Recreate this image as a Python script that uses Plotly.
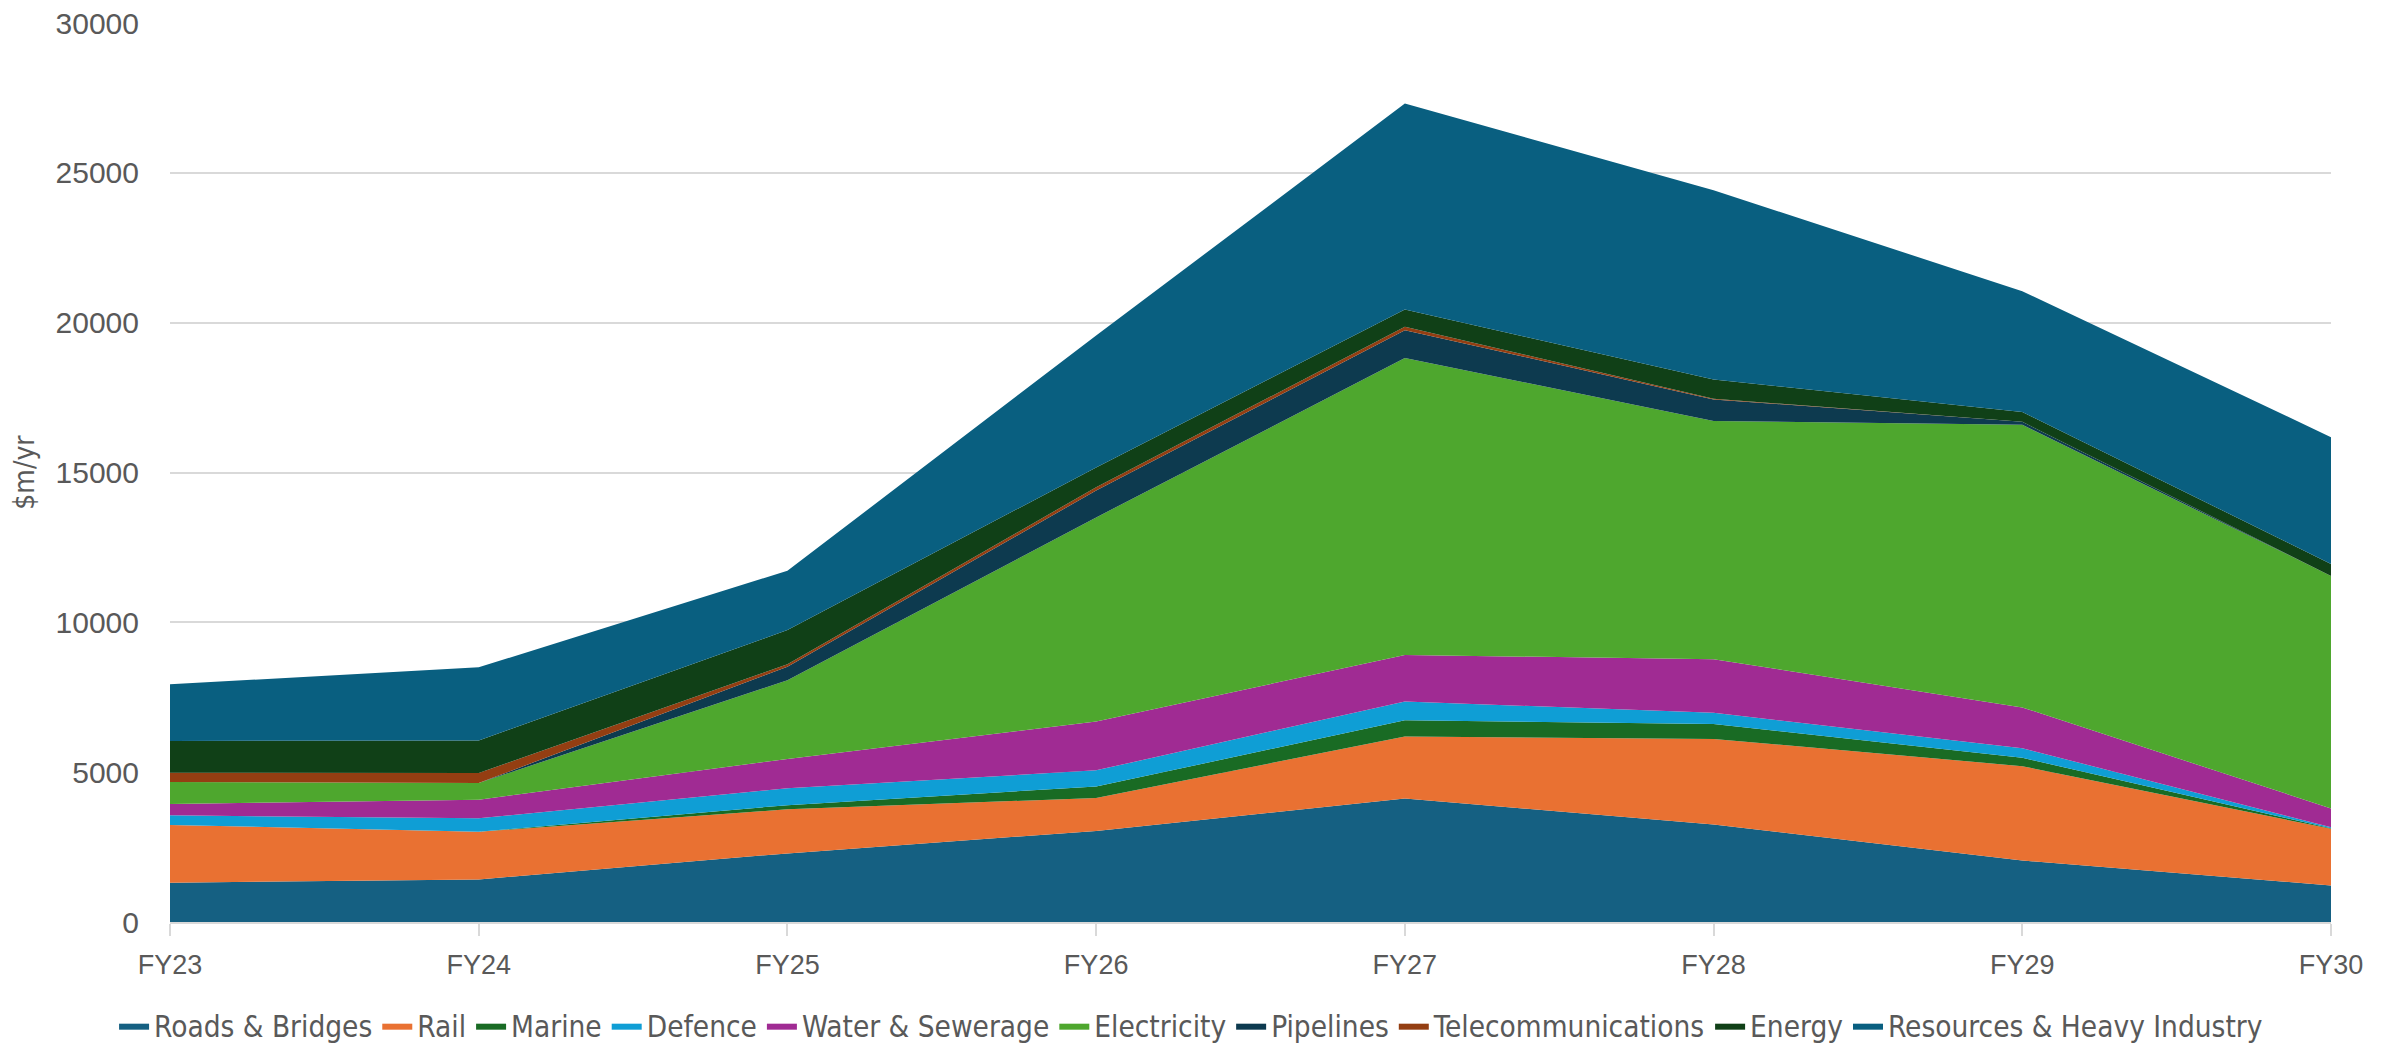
import plotly.graph_objects as go

# Werte in $m/yr (gestapelt)
jahre = ["FY23", "FY24", "FY25", "FY26", "FY27", "FY28", "FY29", "FY30"]

roads_bridges = [1310, 1420, 2290, 3040, 4120, 3250, 2050, 1220]
rail = [1930, 1590, 1470, 1100, 2070, 2860, 3150, 1890]
marine = [0, 0, 140, 380, 540, 500, 280, 20]
defence = [320, 450, 560, 540, 630, 370, 320, 30]
water_sewerage = [380, 620, 980, 1630, 1550, 1790, 1360, 630]
electricity = [730, 560, 2630, 6810, 9910, 7950, 9430, 7760]
pipelines = [0, 0, 450, 900, 930, 720, 100, 0]
telecommunications = [310, 330, 80, 110, 110, 20, 0, 0]
energy = [1060, 1090, 1140, 660, 580, 640, 330, 400]
resources_heavy = [1890, 2440, 1980, 4400, 6870, 6320, 4030, 4230]

serien = [
    ("Roads & Bridges", roads_bridges, "#156082"),
    ("Rail", rail, "#E97132"),
    ("Marine", marine, "#196B24"),
    ("Defence", defence, "#0F9ED5"),
    ("Water & Sewerage", water_sewerage, "#A02B93"),
    ("Electricity", electricity, "#4EA72E"),
    ("Pipelines", pipelines, "#0D3A4F"),
    ("Telecommunications", telecommunications, "#943E12"),
    ("Energy", energy, "#104017"),
    ("Resources & Heavy Industry", resources_heavy, "#095F80"),
]

schmal = "DejaVu Sans Condensed, Liberation Sans Narrow, Roboto Condensed, Liberation Sans"

fig = go.Figure()
for name, werte, farbe in serien:
    fig.add_trace(go.Scatter(
        x=jahre, y=werte, name=name, mode="lines",
        stackgroup="eins", line=dict(width=0, color=farbe),
        fillcolor=farbe,
    ))

# Seite hat 8px Rand im Browser; Figur unten etwas hoeher, damit die Legende nicht schiebt
fig.update_layout(
    width=2387, height=1070,
    paper_bgcolor="white", plot_bgcolor="white",
    margin=dict(l=162, r=64, t=15, b=156),
    font=dict(family="Liberation Sans", size=26, color="#595959"),
    legend=dict(
        orientation="h", x=0.4725, xanchor="center", y=-0.1157, yanchor="middle",
        font=dict(family=schmal, size=29.5, color="#595959"),
        traceorder="normal", itemwidth=30,
    ),
    showlegend=True,
)
fig.update_xaxes(
    type="category", range=[0, 7], showgrid=False, automargin=False,
    showline=True, linecolor="#D9D9D9", linewidth=2,
    ticks="outside", ticklen=12, tickcolor="#D9D9D9", tickwidth=2,
    tickfont=dict(size=27, color="#595959"), ticklabelstandoff=6,
    ticklabeloverflow="allow",
)
fig.update_yaxes(
    range=[0, 30000], dtick=5000, showgrid=True, gridcolor="#D9D9D9", gridwidth=1.5,
    zeroline=False, showline=False, tickformat="d", automargin=False,
    tickfont=dict(size=30, color="#595959"), ticklabelstandoff=30,
    ticklabeloverflow="allow",
    title=dict(text="$m/yr", font=dict(family=schmal, size=28, color="#595959"), standoff=12),
)

fig.write_html("out.html")
